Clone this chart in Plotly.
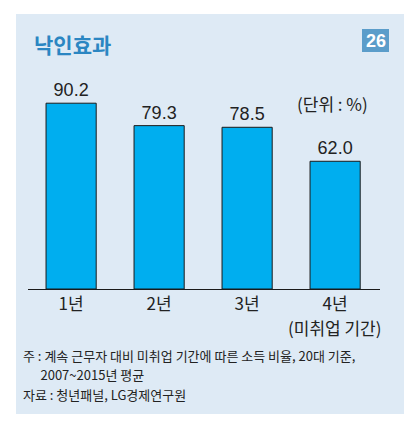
import plotly.graph_objects as go

categories = ["1년", "2년", "3년", "4년"]
sub_labels = ["", "", "", "(미취업 기간)"]
values = [90.2, 79.3, 78.5, 62.0]
value_labels = ["90.2", "79.3", "78.5", "62.0"]

title_text = "낙인효과"
badge_text = "26"
unit_text = "(단위 : %)"
note_lines = [
    "주 : 계속 근무자 대비 미취업 기간에 따른 소득 비율, 20대 기준,",
    "      2007~2015년 평균",
    "자료 : 청년패널, LG경제연구원",
]

# page body adds 8px margin, so shrink the figure and shift everything
OFF = 8
W, H = 417 - OFF, 429 - OFF
FONT = "Noto Sans CJK KR"
NUM_FONT = "Liberation Sans"

# plot area in page pixels
PL, PR, PT, PB = 28, 380, 83, 289

fig = go.Figure()
fig.add_trace(go.Bar(
    x=list(range(len(categories))), y=values,
    text=value_labels, textposition="outside",
    textfont=dict(size=18, color="#222222", family=NUM_FONT),
    marker=dict(color="#00aeef", line=dict(color="#1a1a1a", width=1)),
    width=0.57, cliponaxis=False, hoverinfo="skip",
))

def px(xp, yp):
    return (xp - PL) / (PR - PL), (PB - yp) / (PB - PT)

# panel background
x0, y1 = px(16, 14)
x1, y0 = px(404, 414)
fig.add_shape(type="rect", xref="paper", yref="paper", x0=x0, x1=x1, y0=y0, y1=y1,
              fillcolor="#deeaf5", line=dict(width=0), layer="below")
# badge
x0, y1 = px(362, 29)
x1, y0 = px(389, 52)
fig.add_shape(type="rect", xref="paper", yref="paper", x0=x0, x1=x1, y0=y0, y1=y1,
              fillcolor="#5b9dca", line=dict(width=0))

ann = []
x, y = px(32, 44)
ann.append(dict(text="<b>" + title_text + "</b>", x=x, y=y, xanchor="left", yanchor="middle",
                xref="paper", font=dict(size=21, color="#2b86c2", family=FONT)))
x, y = px(375.5, 41)
ann.append(dict(text="<b>" + badge_text + "</b>", x=x, y=y, xanchor="center", yanchor="middle",
                xref="paper", font=dict(size=18, color="white", family=NUM_FONT)))
x, y = px(332, 103)
ann.append(dict(text=unit_text, x=x, y=y, xanchor="center", yanchor="middle",
                xref="paper", font=dict(size=17, color="#222222", family=FONT)))
for line, yy in zip(note_lines, [355, 374.5, 394]):
    x, y = px(22, yy)
    ann.append(dict(text=line, x=x, y=y, xanchor="left", yanchor="middle", borderpad=0,
                    xref="paper", font=dict(size=13, color="#222222", family=FONT)))
# second line of the category labels
_, y = px(0, 327)
for i, s in enumerate(sub_labels):
    if s:
        ann.append(dict(text=s, x=i, xref="x", y=y, xanchor="center", yanchor="middle",
                        font=dict(size=17, color="#222222", family=FONT)))
for a in ann:
    a.update(yref="paper", showarrow=False)

fig.update_layout(
    width=W, height=H,
    margin=dict(l=PL - OFF, r=W + OFF - PR, t=PT - OFF, b=H + OFF - PB, pad=0),
    paper_bgcolor="white", plot_bgcolor="rgba(0,0,0,0)",
    showlegend=False, annotations=ann,
    font=dict(family=FONT, color="#222222"),
)
fig.update_xaxes(range=[-0.49, 3.51], tickvals=list(range(len(categories))), ticktext=categories,
                 showgrid=False, zeroline=False, showline=True, linecolor="#1a1a1a", linewidth=1,
                 ticks="", tickfont=dict(size=17, color="#222222", family=FONT))
fig.update_yaxes(range=[0, 100], visible=False, showgrid=False)

fig.write_html("out.html")
